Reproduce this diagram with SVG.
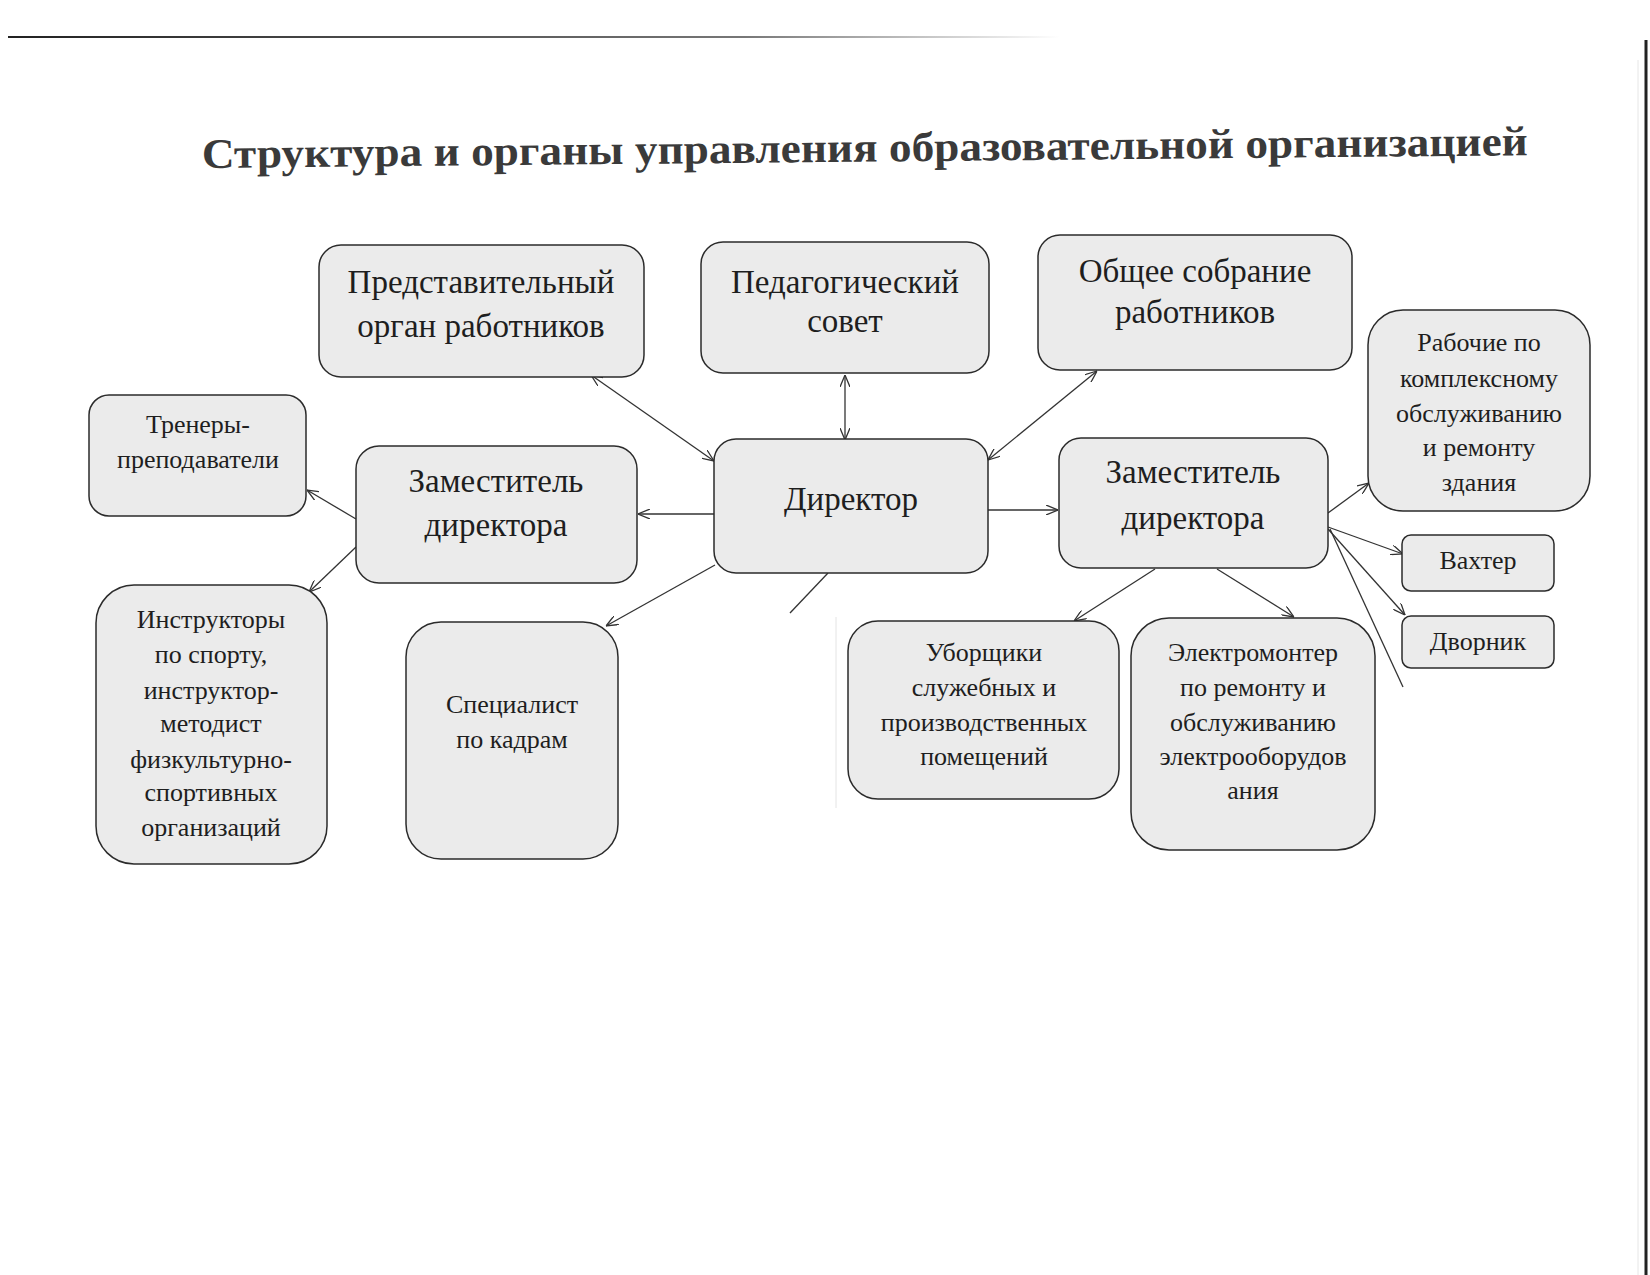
<svg xmlns="http://www.w3.org/2000/svg" width="1650" height="1275" viewBox="0 0 1650 1275">
  <defs>
    <linearGradient id="fade" gradientUnits="userSpaceOnUse" x1="8" y1="0" x2="1060" y2="0">
      <stop offset="0" stop-color="#222"/>
      <stop offset="0.7" stop-color="#777"/>
      <stop offset="1" stop-color="#fff"/>
    </linearGradient>
    <marker id="ah" viewBox="0 0 12 10" refX="12" refY="5" markerWidth="12" markerHeight="10" markerUnits="userSpaceOnUse" orient="auto-start-reverse">
      <path d="M0,0 L12,5 L0,10" fill="none" stroke="#333" stroke-width="1.3"/>
    </marker>
  </defs>
  <style>
    .box { fill: #ebebeb; stroke: #2b2b2b; stroke-width: 1.5; }
    .big { font-family: "Liberation Serif", "Times New Roman", serif; font-size: 33px; fill: #1e1e1e; text-anchor: middle; }
    .small { font-family: "Liberation Serif", "Times New Roman", serif; font-size: 26px; fill: #1e1e1e; text-anchor: middle; }
    .title { font-family: "Liberation Serif", "Times New Roman", serif; font-size: 42px; font-weight: bold; fill: #3a3a3a; }
    .c { fill: none; stroke: #333; stroke-width: 1.3; }
    .uni { marker-end: url(#ah); }
    .bi { marker-start: url(#ah); marker-end: url(#ah); }
  </style>
  <rect width="1650" height="1275" fill="#ffffff"/>

  <!-- scan edges -->
  <g id="scan-edges">
    <rect x="8" y="36" width="1052" height="2" fill="url(#fade)"/>
    <line x1="1646" y1="40" x2="1646" y2="1275" stroke="#222" stroke-width="3"/>
    <line x1="1638" y1="60" x2="1638" y2="1275" stroke="#e6e6e6" stroke-width="1"/>
    <line x1="836" y1="617" x2="836" y2="808" stroke="#e4e4e4" stroke-width="1"/>
  </g>

  <text id="title" class="title" x="202" y="168" textLength="1326" lengthAdjust="spacingAndGlyphs" transform="rotate(-0.55 202 168)">Структура и органы управления образовательной организацией</text>

  <g id="connectors">
    <line class="c bi" x1="714" y1="461" x2="591" y2="375"/>
    <line class="c bi" x1="845" y1="440" x2="845" y2="375"/>
    <line class="c bi" x1="988" y1="460" x2="1097" y2="371"/>
    <line class="c uni" x1="988" y1="510" x2="1058" y2="510"/>
    <line class="c uni" x1="714" y1="514" x2="638" y2="514"/>
    <line class="c uni" x1="715" y1="565" x2="606" y2="626"/>
    <line class="c" x1="828" y1="573" x2="790" y2="613"/>
    <line class="c uni" x1="356" y1="519" x2="307" y2="490"/>
    <line class="c uni" x1="356" y1="547" x2="309" y2="592"/>
    <line class="c uni" x1="1328" y1="513" x2="1369" y2="483"/>
    <line class="c uni" x1="1328" y1="527" x2="1403" y2="554"/>
    <line class="c uni" x1="1328" y1="529" x2="1405" y2="615"/>
    <line class="c" x1="1330" y1="529" x2="1403" y2="687"/>
    <line class="c uni" x1="1155" y1="569" x2="1074" y2="621"/>
    <line class="c uni" x1="1217" y1="569" x2="1294" y2="617"/>
  </g>

  <g id="n-predstav">
    <rect class="box" x="319" y="245" width="325" height="132" rx="22"/>
    <text class="big" x="481" y="293">Представительный</text>
    <text class="big" x="481" y="337">орган работников</text>
  </g>
  <g id="n-pedsovet">
    <rect class="box" x="701" y="242" width="288" height="131" rx="22"/>
    <text class="big" x="845" y="293">Педагогический</text>
    <text class="big" x="845" y="332">совет</text>
  </g>
  <g id="n-obshchee">
    <rect class="box" x="1038" y="235" width="314" height="135" rx="22"/>
    <text class="big" x="1195" y="282">Общее собрание</text>
    <text class="big" x="1195" y="323">работников</text>
  </g>
  <g id="n-rabochie">
    <rect class="box" x="1368" y="310" width="222" height="201" rx="35"/>
    <text class="small" x="1479" y="351">Рабочие по</text>
    <text class="small" x="1479" y="387">комплексному</text>
    <text class="small" x="1479" y="422">обслуживанию</text>
    <text class="small" x="1479" y="456">и ремонту</text>
    <text class="small" x="1479" y="491">здания</text>
  </g>
  <g id="n-trenery">
    <rect class="box" x="89" y="395" width="217" height="121" rx="20"/>
    <text class="small" x="198" y="433">Тренеры-</text>
    <text class="small" x="198" y="468">преподаватели</text>
  </g>
  <g id="n-zam-left">
    <rect class="box" x="356" y="446" width="281" height="137" rx="23"/>
    <text class="big" x="496" y="492">Заместитель</text>
    <text class="big" x="496" y="536">директора</text>
  </g>
  <g id="n-director">
    <rect class="box" x="714" y="439" width="274" height="134" rx="22"/>
    <text class="big" x="851" y="510">Директор</text>
  </g>
  <g id="n-zam-right">
    <rect class="box" x="1059" y="438" width="269" height="130" rx="22"/>
    <text class="big" x="1193" y="483">Заместитель</text>
    <text class="big" x="1193" y="529">директора</text>
  </g>
  <g id="n-vakhter">
    <rect class="box" x="1402" y="535" width="152" height="56" rx="9"/>
    <text class="small" x="1478" y="569">Вахтер</text>
  </g>
  <g id="n-dvornik">
    <rect class="box" x="1402" y="616" width="152" height="52" rx="9"/>
    <text class="small" x="1478" y="650">Дворник</text>
  </g>
  <g id="n-instruktory">
    <rect class="box" x="96" y="585" width="231" height="279" rx="38"/>
    <text class="small" x="211" y="628">Инструкторы</text>
    <text class="small" x="211" y="663">по спорту,</text>
    <text class="small" x="211" y="699">инструктор-</text>
    <text class="small" x="211" y="732">методист</text>
    <text class="small" x="211" y="768">физкультурно-</text>
    <text class="small" x="211" y="801">спортивных</text>
    <text class="small" x="211" y="836">организаций</text>
  </g>
  <g id="n-specialist">
    <rect class="box" x="406" y="622" width="212" height="237" rx="35"/>
    <text class="small" x="512" y="713">Специалист</text>
    <text class="small" x="512" y="748">по кадрам</text>
  </g>
  <g id="n-uborshchiki">
    <rect class="box" x="848" y="621" width="271" height="178" rx="30"/>
    <text class="small" x="984" y="661">Уборщики</text>
    <text class="small" x="984" y="696">служебных и</text>
    <text class="small" x="984" y="731">производственных</text>
    <text class="small" x="984" y="765">помещений</text>
  </g>
  <g id="n-elektromonter">
    <rect class="box" x="1131" y="618" width="244" height="232" rx="38"/>
    <text class="small" x="1253" y="661">Электромонтер</text>
    <text class="small" x="1253" y="696">по ремонту и</text>
    <text class="small" x="1253" y="731">обслуживанию</text>
    <text class="small" x="1253" y="765">электрооборудов</text>
    <text class="small" x="1253" y="799">ания</text>
  </g>
</svg>
